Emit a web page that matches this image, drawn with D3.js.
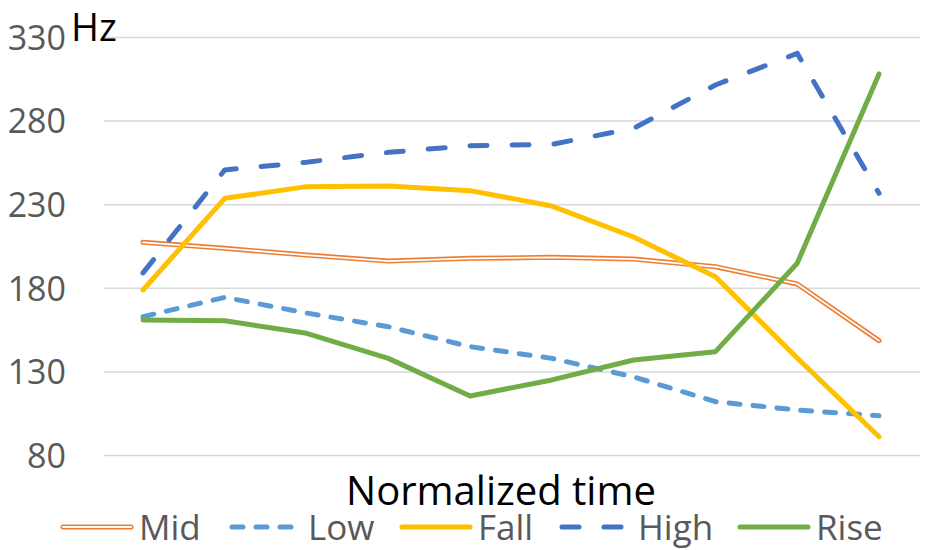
<!DOCTYPE html>
<html>
  <head>
    <title>Pitch contours</title>
    <script src="https://d3js.org/d3.v7.min.js"></script>
    <style>
        body { margin: 0; background: white; }
        svg { display: block; }
    </style>
  </head>
  <body>
    <svg id="chart_svg" width="927" height="550"></svg>
  </body>
  <script>
    // ten normalized time points
    const timePoints = [1, 2, 3, 4, 5, 6, 7, 8, 9, 10];
    const yTicks = [80, 130, 180, 230, 280, 330];

    const midValues  = [207.5, 203.9, 199.9, 196.3, 197.9, 198.5, 197.5, 192.9, 182.6, 148.7];
    const lowValues  = [163.0, 174.6, 165.2, 157.0, 145.1, 138.1, 127.0, 112.2, 107.2, 103.8];
    const fallValues = [179.0, 233.8, 240.8, 241.2, 238.4, 229.2, 210.7, 186.9, 138.3, 91.2];
    const highValues = [189.2, 250.8, 255.4, 261.3, 265.3, 266.1, 275.7, 301.6, 320.5, 236.8];
    const riseValues = [161.0, 160.6, 153.1, 138.1, 115.6, 125.2, 137.1, 142.1, 195.0, 308.2];

    const seriesNames = ["Mid", "Low", "Fall", "High", "Rise"];
    const seriesData = [midValues, lowValues, fallValues, highValues, riseValues];

    const styles = {
        "Mid":  {color: "#ED7D31", dash: null,    double: true},
        "Low":  {color: "#5B9BD5", dash: "11,13", double: false},
        "Fall": {color: "#FFC000", dash: null,    double: false},
        "High": {color: "#4472C4", dash: "17,25", double: false},
        "Rise": {color: "#70AD47", dash: null,    double: false}
    };

    const svg = d3.select("#chart_svg");
    const font = "'Open Sans', sans-serif";

    const x = d3.scalePoint().domain(timePoints).range([143, 879]);
    const y = d3.scaleLinear().domain([80, 330]).range([455.5, 37.5]);

    // gridlines
    svg.append("g").selectAll("line")
      .data(yTicks)
      .enter()
      .append("line")
      .attr("x1", 104)
      .attr("x2", 920)
      .attr("y1", d => y(d))
      .attr("y2", d => y(d))
      .style("stroke", "#D9D9D9")
      .style("stroke-width", 1.5);

    // y tick labels
    svg.append("g").selectAll("text")
      .data(yTicks)
      .enter()
      .append("text")
      .attr("x", 66)
      .attr("y", d => y(d))
      .attr("dy", "0.36em")
      .attr("text-anchor", "end")
      .attr("font-family", font)
      .attr("font-size", "34px")
      .attr("fill", "#595959")
      .text(d => d);

    svg.append("text")
      .attr("x", 71)
      .attr("y", 41)
      .attr("font-family", font)
      .attr("font-size", "38px")
      .attr("fill", "black")
      .text("Hz");

    svg.append("text")
      .attr("x", 501)
      .attr("y", 505)
      .attr("text-anchor", "middle")
      .attr("font-family", font)
      .attr("font-size", "40px")
      .attr("fill", "black")
      .text("Normalized time");

    const line = d3.line()
      .x((d, i) => x(timePoints[i]))
      .y(d => y(d));

    function drawStroke(sel, name) {
        const s = styles[name];
        sel.style("fill", "none")
          .style("stroke", s.color)
          .style("stroke-width", 5)
          .style("stroke-linejoin", "round")
          .style("stroke-linecap", "round");
        if (s.dash) sel.style("stroke-dasharray", s.dash);
        return sel;
    }

    const lines = svg.append("g");
    seriesNames.forEach((name, k) => {
        const p = lines.append("path").attr("d", line(seriesData[k]));
        drawStroke(p, name);
        if (styles[name].double) {
            lines.append("path")
              .attr("d", line(seriesData[k]))
              .style("fill", "none")
              .style("stroke", "white")
              .style("stroke-width", 1.8)
              .style("stroke-linejoin", "round")
              .style("stroke-linecap", "round");
        }
    });

    // legend
    const legendX = [61, 230, 400, 560, 738];
    const legend = svg.append("g");
    seriesNames.forEach((name, k) => {
        const x0 = legendX[k];
        const seg = legend.append("line")
          .attr("x1", x0 + 2).attr("x2", x0 + 70)
          .attr("y1", 527).attr("y2", 527);
        drawStroke(seg, name);
        if (styles[name].double) {
            legend.append("line")
              .attr("x1", x0 + 2).attr("x2", x0 + 70)
              .attr("y1", 527).attr("y2", 527)
              .style("stroke", "white")
              .style("stroke-width", 1.8)
              .style("stroke-linecap", "round");
        }
        legend.append("text")
          .attr("x", x0 + 78)
          .attr("y", 540)
          .attr("font-family", font)
          .attr("font-size", "35px")
          .attr("fill", "#595959")
          .text(name);
    });
  </script>
</html>
